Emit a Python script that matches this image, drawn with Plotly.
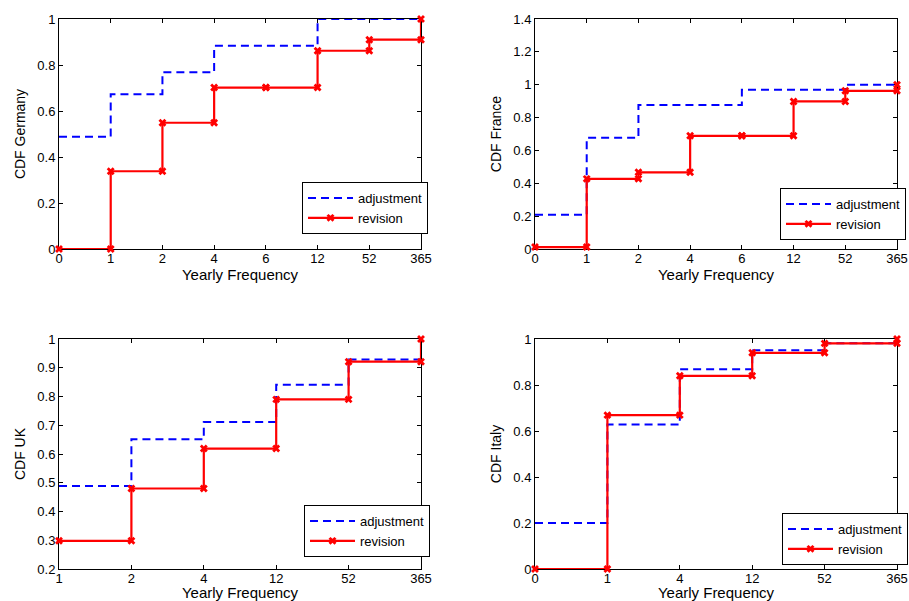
import plotly.graph_objects as go

# ---------------- data ----------------
freq_de = ["0", "1", "2", "4", "6", "12", "52", "365"]
adj_de = [0.488, 0.673, 0.769, 0.884, 0.884, 1.0, 1.0, 1.0]
rev_de = [0.0, 0.338, 0.549, 0.702, 0.702, 0.862, 0.910, 1.0]

freq_fr = ["0", "1", "2", "4", "6", "12", "52", "365"]
adj_fr = [0.209, 0.677, 0.876, 0.876, 0.97, 0.97, 1.0, 1.0]
rev_fr = [0.012, 0.427, 0.467, 0.689, 0.689, 0.898, 0.963, 1.0]

freq_uk = ["1", "2", "4", "12", "52", "365"]
adj_uk = [0.489, 0.651, 0.711, 0.841, 0.929, 1.0]
rev_uk = [0.298, 0.480, 0.619, 0.790, 0.921, 1.0]

freq_it = ["0", "1", "4", "12", "52", "365"]
adj_it = [0.200, 0.628, 0.869, 0.951, 0.981, 1.0]
rev_it = [0.0, 0.669, 0.840, 0.940, 0.981, 1.0]

panels = [
    dict(name="Germany", freq=freq_de, adj=adj_de, rev=rev_de, yr=[0, 1],
         yt=[0, 0.2, 0.4, 0.6, 0.8, 1], ytt=["0", "0.2", "0.4", "0.6", "0.8", "1"]),
    dict(name="France", freq=freq_fr, adj=adj_fr, rev=rev_fr, yr=[0, 1.4],
         yt=[0, 0.2, 0.4, 0.6, 0.8, 1, 1.2, 1.4],
         ytt=["0", "0.2", "0.4", "0.6", "0.8", "1", "1.2", "1.4"]),
    dict(name="UK", freq=freq_uk, adj=adj_uk, rev=rev_uk, yr=[0.2, 1],
         yt=[0.2, 0.3, 0.4, 0.5, 0.6, 0.7, 0.8, 0.9, 1],
         ytt=["0.2", "0.3", "0.4", "0.5", "0.6", "0.7", "0.8", "0.9", "1"]),
    dict(name="Italy", freq=freq_it, adj=adj_it, rev=rev_it, yr=[0, 1],
         yt=[0, 0.2, 0.4, 0.6, 0.8, 1], ytt=["0", "0.2", "0.4", "0.6", "0.8", "1"]),
]

W, H = 909, 601
# plot-area boxes in pixels (left, right, top, bottom)
boxes = [(59, 421, 19, 249), (535, 897, 19, 249), (59, 421, 339, 569), (535, 897, 339, 569)]
# legend right edge / vertical centre in pixels
legpos = [(428, 208), (906, 214), (430, 531), (908, 539)]


def stairs(vals):
    xs, ys = [0], [vals[0]]
    for i in range(1, len(vals)):
        xs += [i, i]
        ys += [vals[i - 1], vals[i]]
    return xs, ys


FONT = "Liberation Sans, Arial, sans-serif"
fig = go.Figure()
layout = {}
for k, p in enumerate(panels):
    sfx = "" if k == 0 else str(k + 1)
    lg = "legend" if k == 0 else "legend" + str(k + 1)
    xa, ya = "x" + sfx, "y" + sfx
    ax, ay = stairs(p["adj"])
    rx, ry = stairs(p["rev"])
    fig.add_trace(go.Scatter(x=ax, y=ay, mode="lines", name="adjustment",
                             line=dict(color="#0000ff", width=2, dash="8px,5px"),
                             xaxis=xa, yaxis=ya, legend=lg))
    fig.add_trace(go.Scatter(x=rx, y=ry, mode="lines+markers", name="revision",
                             line=dict(color="#ff0000", width=2.2),
                             marker=dict(symbol="x", size=7, color="#ff0000"),
                             cliponaxis=False,
                             xaxis=xa, yaxis=ya, legend=lg))
    l, r, t, b = boxes[k]
    n = len(p["freq"])
    layout["xaxis" + sfx] = dict(
        domain=[l / W, r / W], anchor=ya, range=[0, n - 1], automargin=False,
        tickvals=list(range(n)), ticktext=p["freq"], layer="below traces",
        showline=True, linecolor="black", linewidth=1, mirror="ticks",
        ticks="inside", ticklen=4, tickcolor="black", showgrid=False, zeroline=False,
        tickfont=dict(family=FONT, size=13, color="black"), ticklabelstandoff=-3,
        title=dict(text="Yearly Frequency", font=dict(family=FONT, size=15, color="black"),
                   standoff=4),
    )
    layout["yaxis" + sfx] = dict(
        domain=[1 - b / H, 1 - t / H], anchor=xa, range=p["yr"], automargin=False,
        tickvals=p["yt"], ticktext=p["ytt"], layer="below traces",
        showline=True, linecolor="black", linewidth=1, mirror="ticks",
        ticks="inside", ticklen=4, tickcolor="black", showgrid=False, zeroline=False,
        tickfont=dict(family=FONT, size=13, color="black"),
        title=dict(text="CDF " + p["name"], font=dict(family=FONT, size=14, color="black"),
                   standoff=8),
    )
    lx, ly = legpos[k]
    layout[lg] = dict(x=lx / W, y=1 - ly / H, xanchor="right", yanchor="middle",
                      xref="paper", yref="paper",
                      bgcolor="white", bordercolor="black", borderwidth=1,
                      font=dict(family=FONT, size=13, color="black"),
                      tracegroupgap=0, itemwidth=45)

fig.update_layout(width=W, height=H, margin=dict(l=0, r=0, t=0, b=0, autoexpand=False),
                  paper_bgcolor="white", plot_bgcolor="white", showlegend=True,
                  **layout)
fig.write_html("out.html", config={"displayModeBar": False},
               post_script="document.body.style.margin='0';document.body.style.overflow='hidden';")
